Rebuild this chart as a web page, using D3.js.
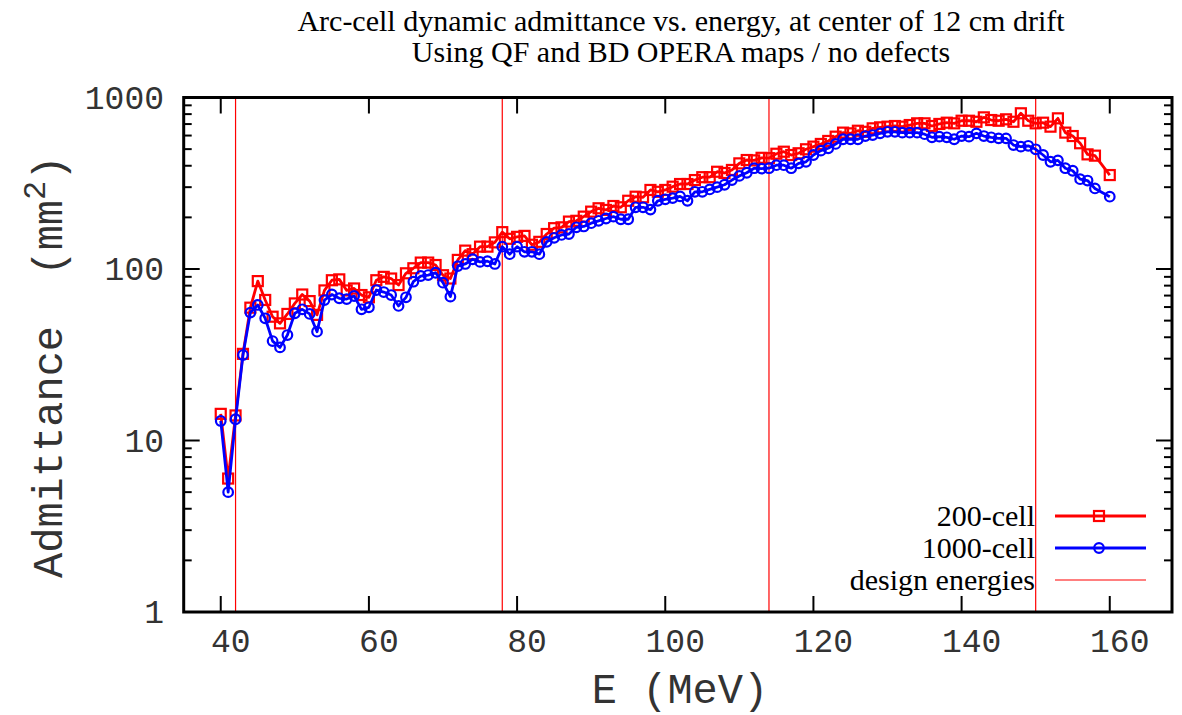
<!DOCTYPE html>
<html>
<head>
<meta charset="utf-8">
<script src="https://cdn.jsdelivr.net/npm/d3@7"></script>
<style>
  html, body { margin: 0; padding: 0; background: #fff; }
  svg { display: block; }
</style>
</head>
<body>
<svg id="chart" width="1182" height="715"></svg>
<script>
// ---------------- data ----------------
const energies = [40,41,42,43,44,45,46,47,48,49,50,51,52,53,54,55,56,57,58,59,
  60,61,62,63,64,65,66,67,68,69,70,71,72,73,74,75,76,77,78,79,
  80,81,82,83,84,85,86,87,88,89,90,91,92,93,94,95,96,97,98,99,
  100,101,102,103,104,105,106,107,108,109,110,111,112,113,114,115,116,117,118,119,
  120,121,122,123,124,125,126,127,128,129,130,131,132,133,134,135,136,137,138,139,
  140,141,142,143,144,145,146,147,148,149,150,151,152,153,154,155,156,157,158,160];

const cell200 = [14.3,6.0,14,32,59.5,85,66,52.7,48.2,54.7,63,71,65,54,75,86,87,75,77,70.5,
  68.4,86,90,88,80.6,94.4,101,109,109,105.5,92,88,113,128,122,135,135,143,164,150,
  154,156,138.5,144,160,173,175,189,191,202,216,226,221,233,229,250,264,262,289,282,
  289,302,313,313,330,343,343,369,363,378,413,432,430,445,443,470,483,462,473,499,
  517,536,558,591,624,618,640,631,661,670,676,682,676,691,707,707,682,701,713,707,
  732,732,722,766,739,732,746,722,809,732,707,713,676,756,624,596,541,466,458,353];

const cell1000 = [13,5,13.3,31.5,55.7,61.7,51.6,38,34.9,41.2,55.2,58.2,54.7,43.1,65.9,71,67.5,66.8,69.6,58.2,
  59.8,75.4,73.4,70.5,60.9,68.4,84.3,91,92.2,95.1,83.2,69,104,107,114,110,111,107,135,122,
  135,126,126,122,144,152,158,160,175,177,185,191,197,202,195,195,229,229,222,250,
  255,259,265,250,282,282,291,300,310,330,349,364,387,385,387,403,403,387,413,422,
  462,490,506,536,571,571,571,596,604,618,631,631,624,624,624,611,586,591,586,571,
  596,591,618,596,586,578,578,528,517,523,499,462,422,430,387,374,334,328,295,264];

const designEnergies = [42, 78, 114, 150];

const xTicks = [40, 60, 80, 100, 120, 140, 160];
const yTicks = [1, 10, 100, 1000];

const titleLines = ["Arc-cell dynamic admittance vs. energy, at center of 12 cm drift",
                    "Using QF and BD OPERA maps / no defects"];
const legendLabels = ["200-cell", "1000-cell", "design energies"];

// ---------------- layout ----------------
const svg = d3.select("#chart");
const L = 183.7, R = 1172, T = 97.5, B = 612;
const x = d3.scaleLinear().domain([35, 168.4]).range([L, R]);
const y = d3.scaleLog().domain([1, 1000]).range([B, T]);

const serif = "'Liberation Serif', 'Times New Roman', serif";
const mono = "'Liberation Mono', 'Courier New', monospace";
const textGray = "#333";

// title
svg.append("g").selectAll("text").data(titleLines).join("text")
  .attr("x", 681).attr("y", (d, i) => 31 + i * 31)
  .attr("text-anchor", "middle")
  .attr("font-family", serif).attr("font-size", 30)
  .text(d => d);

// design energy lines
svg.append("g").selectAll("line").data(designEnergies).join("line")
  .attr("x1", d => x(d)).attr("x2", d => x(d))
  .attr("y1", T).attr("y2", B)
  .attr("stroke", "#ff0000").attr("stroke-width", 1.2);

// ticks
const tickG = svg.append("g").attr("stroke", "#000").attr("stroke-width", 2);
const majorLen = 16, minorLen = 8;
xTicks.forEach(t => {
  tickG.append("line").attr("x1", x(t)).attr("x2", x(t)).attr("y1", B).attr("y2", B - majorLen);
  tickG.append("line").attr("x1", x(t)).attr("x2", x(t)).attr("y1", T).attr("y2", T + majorLen);
});
const yAll = y.ticks();
yAll.forEach(t => {
  const major = yTicks.includes(t);
  const len = major ? majorLen : minorLen;
  tickG.append("line").attr("x1", L).attr("x2", L + len).attr("y1", y(t)).attr("y2", y(t));
  tickG.append("line").attr("x1", R).attr("x2", R - len).attr("y1", y(t)).attr("y2", y(t));
});

// tick labels
svg.append("g").selectAll("text").data(xTicks).join("text")
  .attr("x", d => x(d) + 10).attr("y", 652)
  .attr("text-anchor", "middle")
  .attr("font-family", mono).attr("font-size", 33).attr("fill", textGray)
  .text(d => d);
svg.append("g").selectAll("text").data(yTicks).join("text")
  .attr("x", 164).attr("y", d => y(d) + 11)
  .attr("text-anchor", "end")
  .attr("font-family", mono).attr("font-size", 33).attr("fill", textGray)
  .text(d => d);

// axis titles
svg.append("text")
  .attr("x", 680).attr("y", 703)
  .attr("text-anchor", "middle")
  .attr("font-family", mono).attr("font-size", 42).attr("fill", textGray)
  .text("E (MeV)");
const yl = svg.append("text")
  .attr("transform", "translate(62,578) rotate(-90)")
  .attr("text-anchor", "start")
  .attr("font-family", mono).attr("font-size", 42).attr("fill", textGray);
yl.append("tspan").text("Admittance\u00a0\u00a0(mm");
yl.append("tspan").attr("dy", -17).attr("font-size", 32).text("2");
yl.append("tspan").attr("dy", 17).text(")");

// series
const series = [
  { name: legendLabels[0], values: cell200, color: "#ff0000", marker: "square" },
  { name: legendLabels[1], values: cell1000, color: "#0000ff", marker: "circle" }
];
const line = d3.line().x(d => x(d[0])).y(d => y(d[1]));

function drawMarker(g, cx, cy, s) {
  if (s.marker === "square") {
    g.append("rect").attr("x", cx - 5).attr("y", cy - 5).attr("width", 10).attr("height", 10)
      .attr("fill", "none").attr("stroke", s.color).attr("stroke-width", 2.2);
  } else {
    g.append("circle").attr("cx", cx).attr("cy", cy).attr("r", 4.8)
      .attr("fill", "none").attr("stroke", s.color).attr("stroke-width", 2.2);
  }
}

series.forEach(s => {
  const pts = energies.map((e, i) => [e, s.values[i]]);
  svg.append("path").datum(pts).attr("d", line)
    .attr("fill", "none").attr("stroke", s.color).attr("stroke-width", 2.8)
    .attr("stroke-linejoin", "round");
  const g = svg.append("g");
  pts.forEach(p => drawMarker(g, x(p[0]), y(p[1]), s));
});

// legend
const legY = [516, 548, 580];
const lg = svg.append("g");
series.forEach((s, i) => {
  lg.append("line").attr("x1", 1055).attr("x2", 1146).attr("y1", legY[i]).attr("y2", legY[i])
    .attr("stroke", s.color).attr("stroke-width", 2.8);
  drawMarker(lg, 1099, legY[i], s);
});
lg.append("line").attr("x1", 1055).attr("x2", 1146).attr("y1", legY[2]).attr("y2", legY[2])
  .attr("stroke", "#ff0000").attr("stroke-width", 1.2);
lg.selectAll("text").data(legendLabels).join("text")
  .attr("x", 1035).attr("y", (d, i) => legY[i] + 10)
  .attr("text-anchor", "end")
  .attr("font-family", serif).attr("font-size", 30)
  .text(d => d);

// frame
svg.append("rect").attr("x", L).attr("y", T).attr("width", R - L).attr("height", B - T)
  .attr("fill", "none").attr("stroke", "#000").attr("stroke-width", 3);
</script>
</body>
</html>
